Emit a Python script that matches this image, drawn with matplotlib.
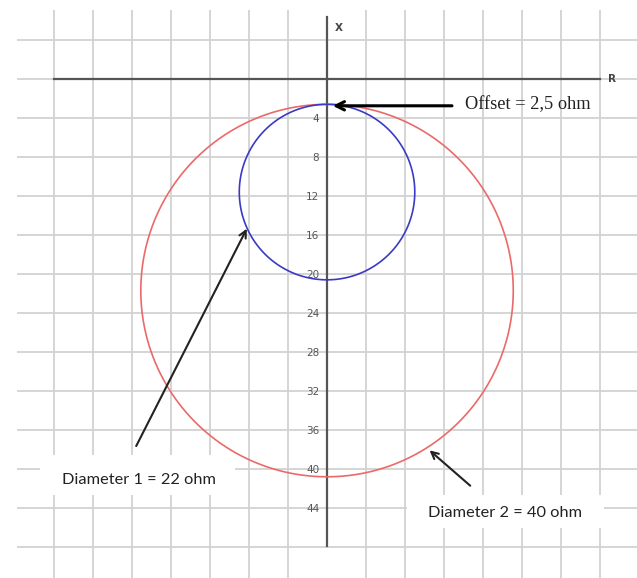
import numpy as np
import matplotlib
matplotlib.use('Agg')
import matplotlib.pyplot as plt

# grid positions (4 ohm per square)
r_grid = list(range(-28, 29, 4))
x_grid = list(range(-4, 49, 4))
x_ticks = [4, 8, 12, 16, 20, 24, 28, 32, 36, 40, 44]

# circles as drawn in the picture: top of both at the offset
offset = 2.6
diam_1 = 18.0
diam_2 = 38.2

fig = plt.figure(figsize=(6.37, 5.78), dpi=100)
ax = fig.add_axes([0, 0, 1, 1])
ax.set_xlim(-33.54, 31.79)
ax.set_ylim(51.18, -8.10)  # X grows downwards
ax.axis('off')

grid_col = '#d2d2d2'
ax.hlines(x_grid, -31.8, 32, color=grid_col, lw=1.3, zorder=1)
ax.vlines([r for r in r_grid if r != 0], -7.1, 52, color=grid_col, lw=1.3, zorder=1)

# axes
ax.plot([-28, 28], [0, 0], color='#555555', lw=1.6, zorder=2)
ax.plot([0, 0], [-6.4, 47.9], color='#555555', lw=1.6, zorder=2)
ax.text(1.2, -5.2, 'X', fontsize=7.5, color='#444444', fontweight='bold', ha='center', va='center')
ax.text(29.2, 0, 'R', fontsize=7.5, color='#444444', fontweight='bold', ha='center', va='center')
for t in x_ticks:
    ax.text(-0.8, t + 0.15, str(t), fontsize=7.5, color='#555555', ha='right', va='center', zorder=3)

# circles (start at the top so the closing point sits under the offset arrow)
th = np.linspace(-np.pi / 2, 1.5 * np.pi, 400)
for d, col in [(diam_2, '#ea6a6a'), (diam_1, '#3a3ac4')]:
    c = offset + d / 2
    ax.plot(d / 2 * np.cos(th), c + d / 2 * np.sin(th), color=col, lw=1.2,
            solid_capstyle='butt', zorder=4)

# annotations
ax.annotate('', xy=(0.3, 2.75), xytext=(13.1, 2.75),
            arrowprops=dict(arrowstyle='->,head_length=0.6,head_width=0.3', color='black', lw=2.2), zorder=6)
ax.text(14.1, 2.6, 'Offset = 2,5 ohm', family='Liberation Serif', fontsize=13.2, color='#222222',
        ha='left', va='center', zorder=6)

ax.add_patch(plt.Rectangle((-29.4, 38.6), 20.0, 4.1, facecolor='white', edgecolor='none', zorder=5))
ax.annotate('', xy=(-8.1, 15.1), xytext=(-19.7, 37.9),
            arrowprops=dict(arrowstyle='->,head_length=0.5,head_width=0.25', color='#222222', lw=1.5), zorder=6)
ax.text(-27.2, 41.1, 'Diameter 1 = 22 ohm', family='Lato', fontsize=11.8, color='#222222',
        ha='left', va='center', zorder=6)

ax.add_patch(plt.Rectangle((8.2, 42.7), 20.2, 3.4, facecolor='white', edgecolor='none', zorder=5))
ax.annotate('', xy=(10.3, 37.9), xytext=(14.9, 41.9),
            arrowprops=dict(arrowstyle='->,head_length=0.5,head_width=0.25', color='#222222', lw=1.5), zorder=6)
ax.text(10.4, 44.5, 'Diameter 2 = 40 ohm', family='Lato', fontsize=11.8, color='#222222',
        ha='left', va='center', zorder=6)

fig.savefig('out.png', dpi=100)
